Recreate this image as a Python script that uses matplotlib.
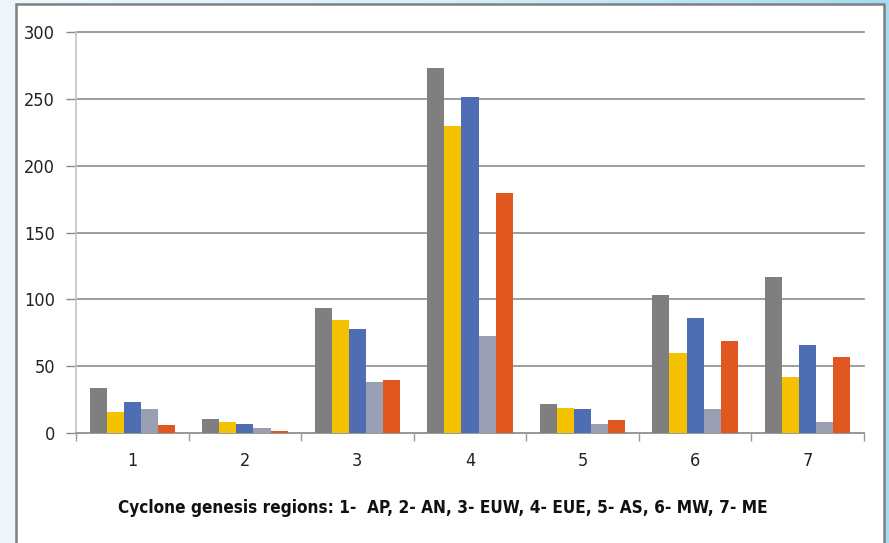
import numpy as np
import matplotlib.pyplot as plt
from matplotlib.patches import Rectangle
from matplotlib.colors import LinearSegmentedColormap

# Cyclone counts per genesis region, five series per region
regions = ['1', '2', '3', '4', '5', '6', '7']
serie_gris = [34, 10.5, 93.5, 273, 22, 103.5, 116.5]
serie_amarilla = [15.5, 8.5, 84.5, 230, 19, 59.5, 42]
serie_azul = [23, 6.7, 78, 251.5, 18, 86, 65.5]
serie_gris_claro = [18, 4, 38, 72.5, 6.5, 18, 8.5]
serie_naranja = [6, 1.7, 39.5, 179.5, 10, 69, 57]

series = [serie_gris, serie_amarilla, serie_azul, serie_gris_claro, serie_naranja]
colores = ['#7f7f7f', '#f5c200', '#4e6db3', '#9a9fb4', '#e0571f']

plt.rcParams['font.family'] = ['DejaVu Sans']
plt.rcParams['font.stretch'] = 'condensed'

fig = plt.figure(figsize=(8.89, 5.43), dpi=100)

# fondo degradado azul claro
fondo = fig.add_axes([0, 0, 1, 1], zorder=-2)
grad = np.linspace(0, 1, 256).reshape(1, -1)
cmap = LinearSegmentedColormap.from_list('fondo', ['#eef8fc', '#d6f0fa', '#a3dcf3'])
fondo.imshow(grad, aspect='auto', cmap=cmap, extent=[0, 1, 0, 1])
fondo.set_xlim(0, 1)
fondo.set_ylim(0, 1)
fondo.axis('off')
# panel blanco con borde gris
fondo.add_patch(Rectangle((16 / 889, -0.05), (884 - 16) / 889, 1.05 - 4 / 543,
                          facecolor='white', edgecolor='#808080', linewidth=1.8))

ax = fig.add_axes([76 / 889, 1 - 433 / 543, (864 - 76) / 889, 401 / 543])
x = np.arange(1, len(regions) + 1)
ancho = 0.152
for i, (valores, color) in enumerate(zip(series, colores)):
    ax.bar(x + (i - 2) * ancho, valores, width=ancho, color=color, zorder=3)

ax.set_xlim(0.5, 7.5)
ax.set_ylim(0, 300)
ax.set_yticks(range(0, 301, 50))
ax.set_xticks(x)
ax.set_xticklabels(regions)
ax.set_xticks(np.arange(0.5, 7.6, 1), minor=True)
ax.tick_params(axis='x', which='major', length=0, pad=14, labelsize=13, colors='#222222')
ax.tick_params(axis='x', which='minor', length=6, width=1, color='#9a9a9a')
ax.tick_params(axis='y', length=7, width=1, color='#8c8c8c', pad=8, labelsize=13,
               labelcolor='#222222')
ax.grid(axis='y', color='#8c8c8c', linewidth=1.2, zorder=0)
for linea in ax.get_ygridlines():
    linea.set_clip_on(False)
for lado in ['top', 'right']:
    ax.spines[lado].set_visible(False)
ax.spines['left'].set_color('#c4c4c4')
ax.spines['left'].set_linewidth(1.2)
ax.spines['bottom'].set_color('#9a9a9a')
ax.spines['bottom'].set_linewidth(1.2)
ax.set_facecolor('none')

fig.text(118 / 889, 1 - 508 / 543,
         'Cyclone genesis regions: 1-  AP, 2- AN, 3- EUW, 4- EUE, 5- AS, 6- MW, 7- ME',
         fontsize=12.35, fontweight='bold', ha='left', va='center', color='#111111')

fig.savefig('out.png', dpi=100)
